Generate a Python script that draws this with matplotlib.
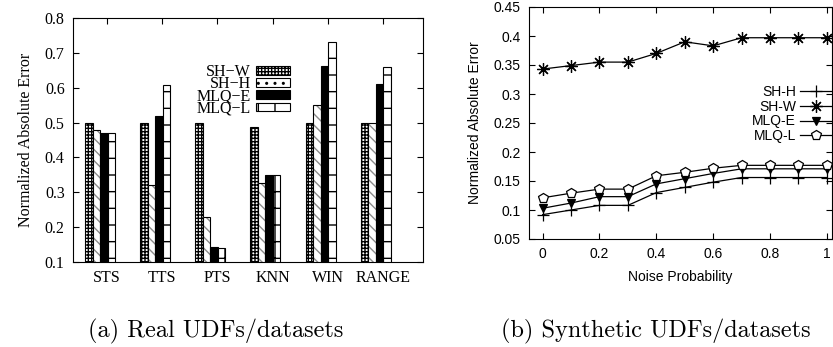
import matplotlib
matplotlib.use('Agg')
import matplotlib.pyplot as plt
import numpy as np
from matplotlib.ticker import FixedLocator, FuncFormatter
from matplotlib.patches import Patch

# ---- Data: (a) real UDFs / datasets ----
categories = ['STS', 'TTS', 'PTS', 'KNN', 'WIN', 'RANGE']
bar_sh_w = [0.500, 0.500, 0.500, 0.487, 0.500, 0.500]
bar_sh_h = [0.480, 0.320, 0.230, 0.327, 0.550, 0.500]
bar_mlq_e = [0.470, 0.520, 0.143, 0.350, 0.663, 0.612]
bar_mlq_l = [0.470, 0.608, 0.140, 0.350, 0.732, 0.660]

# ---- Data: (b) synthetic UDFs / datasets ----
noise = [0.0, 0.1, 0.2, 0.3, 0.4, 0.5, 0.6, 0.7, 0.8, 0.9, 1.0]
syn_sh_h = [0.092, 0.100, 0.108, 0.108, 0.130, 0.139, 0.148, 0.156, 0.156, 0.156, 0.156]
syn_sh_w = [0.343, 0.349, 0.355, 0.355, 0.370, 0.390, 0.383, 0.397, 0.397, 0.397, 0.397]
syn_mlq_e = [0.103, 0.112, 0.123, 0.123, 0.145, 0.154, 0.163, 0.171, 0.171, 0.171, 0.171]
syn_mlq_l = [0.121, 0.129, 0.136, 0.136, 0.159, 0.165, 0.172, 0.177, 0.177, 0.177, 0.177]

W, H = 833, 347
fig = plt.figure(figsize=(W / 100, H / 100), dpi=100)

def ax_rect(x0, y0, x1, y1):
    return [x0 / W, 1 - y1 / H, (x1 - x0) / W, (y1 - y0) / H]

serif = ['Liberation Serif', 'DejaVu Serif']
sans = ['Liberation Sans', 'DejaVu Sans']

# ================= (a) =================
ax1 = fig.add_axes(ax_rect(73, 18, 423, 262))
x = np.arange(len(categories))
bw = 0.136
start = -0.40
lw = 0.8

ax1.bar(x + start + 0 * bw, bar_sh_w, width=bw, align='edge', facecolor='white',
        edgecolor='black', linewidth=lw, hatch='+++++')
# SH-H: grey hatch, black outline
ax1.bar(x + start + 1 * bw, bar_sh_h, width=bw, align='edge', facecolor='white',
        edgecolor='0.55', linewidth=0, hatch='\\\\\\')
ax1.bar(x + start + 1 * bw, bar_sh_h, width=bw, align='edge', fill=False,
        edgecolor='black', linewidth=lw)
ax1.bar(x + start + 2 * bw, bar_mlq_e, width=bw, align='edge', facecolor='black',
        edgecolor='black', linewidth=lw)
ax1.bar(x + start + 3 * bw, bar_mlq_l, width=bw, align='edge', facecolor='white',
        edgecolor='black', linewidth=lw, hatch='+')

ax1.set_xlim(-0.62, 5.73)
ax1.set_ylim(0.1, 0.8)
ax1.set_xticks(x)
ax1.set_xticklabels(categories, family=serif, fontsize=11.5)
ax1.yaxis.set_major_locator(FixedLocator(np.arange(0.1, 0.81, 0.1)))
ax1.yaxis.set_major_formatter(FuncFormatter(lambda v, p: '%g' % round(v, 2)))
for t in ax1.get_yticklabels():
    t.set_family(serif)
    t.set_fontsize(11.5)
ax1.tick_params(direction='in', top=True, right=True, length=4, width=0.8, pad=6)
ax1.set_ylabel('Normalized Absolute Error', family=serif, fontsize=11.5, labelpad=8)
for s in ax1.spines.values():
    s.set_linewidth(0.8)

h_shw = Patch(facecolor='white', edgecolor='black', hatch='+++++', linewidth=0.8)
h_shh = Patch(facecolor='white', edgecolor='black', hatch='..', linewidth=0.8)
h_mqe = Patch(facecolor='black', edgecolor='black', linewidth=0.8)
h_mql = Patch(facecolor='white', edgecolor='black', hatch='|', linewidth=0.8)
leg1 = ax1.legend([h_shw, h_shh, h_mqe, h_mql],
                  ['SH\u2212W', 'SH\u2212H', 'MLQ\u2212E', 'MLQ\u2212L'],
                  loc='upper right', bbox_to_anchor=((290 - 73) / 350, (262 - 64) / 244),
                  frameon=False, markerfirst=False, borderpad=0, borderaxespad=0,
                  handlelength=2.1, handleheight=0.45, handletextpad=0.35,
                  labelspacing=-0.24, prop={'family': serif, 'size': 11.5})

# ================= (b) =================
ax2 = fig.add_axes(ax_rect(529, 7, 832, 239))
mk = dict(color='black', linewidth=0.9, markeredgewidth=0.9)
ax2.plot(noise, syn_sh_h, marker='+', markersize=8, label='SH-H', **mk)
ax2.plot(noise, syn_sh_w, marker=(8, 2, 0), markersize=9, label='SH-W', **mk)
ax2.plot(noise, syn_mlq_e, marker='v', markersize=5.5, markerfacecolor='black',
         label='MLQ-E', **mk)
ax2.plot(noise, syn_mlq_l, marker='p', markersize=7, markerfacecolor='white',
         label='MLQ-L', **mk)

ax2.set_xlim(-0.048, 1.018)
ax2.set_ylim(0.05, 0.45)
ax2.xaxis.set_major_locator(FixedLocator([0, 0.2, 0.4, 0.6, 0.8, 1.0]))
ax2.yaxis.set_major_locator(FixedLocator(np.arange(0.05, 0.451, 0.05)))
fmt = FuncFormatter(lambda v, p: '%g' % round(v, 2))
ax2.xaxis.set_major_formatter(fmt)
ax2.yaxis.set_major_formatter(fmt)
for t in ax2.get_xticklabels() + ax2.get_yticklabels():
    t.set_family(sans)
    t.set_fontsize(10)
ax2.tick_params(direction='in', top=True, right=True, length=4, width=0.8, pad=6)
ax2.set_xlabel('Noise Probability', family=sans, fontsize=10, labelpad=6)
ax2.set_ylabel('Normalized Absolute Error', family=sans, fontsize=10, labelpad=8)
for s in ax2.spines.values():
    s.set_linewidth(0.8)

leg2 = ax2.legend(loc='upper right', bbox_to_anchor=(1.0, (239 - 85) / 232),
                  frameon=False, markerfirst=False, borderpad=0, borderaxespad=0,
                  handlelength=2.3, handletextpad=0.3, labelspacing=0.05,
                  prop={'family': sans, 'size': 10})

# ---- captions ----
fig.text(216 / W, 1 - 331 / H, '(a) Real UDFs/datasets', family='cmr10',
         fontsize=17.5, ha='center', va='center')
fig.text(656 / W, 1 - 331 / H, '(b) Synthetic UDFs/datasets', family='cmr10',
         fontsize=17.5, ha='center', va='center')

fig.savefig('out.png', dpi=100)
